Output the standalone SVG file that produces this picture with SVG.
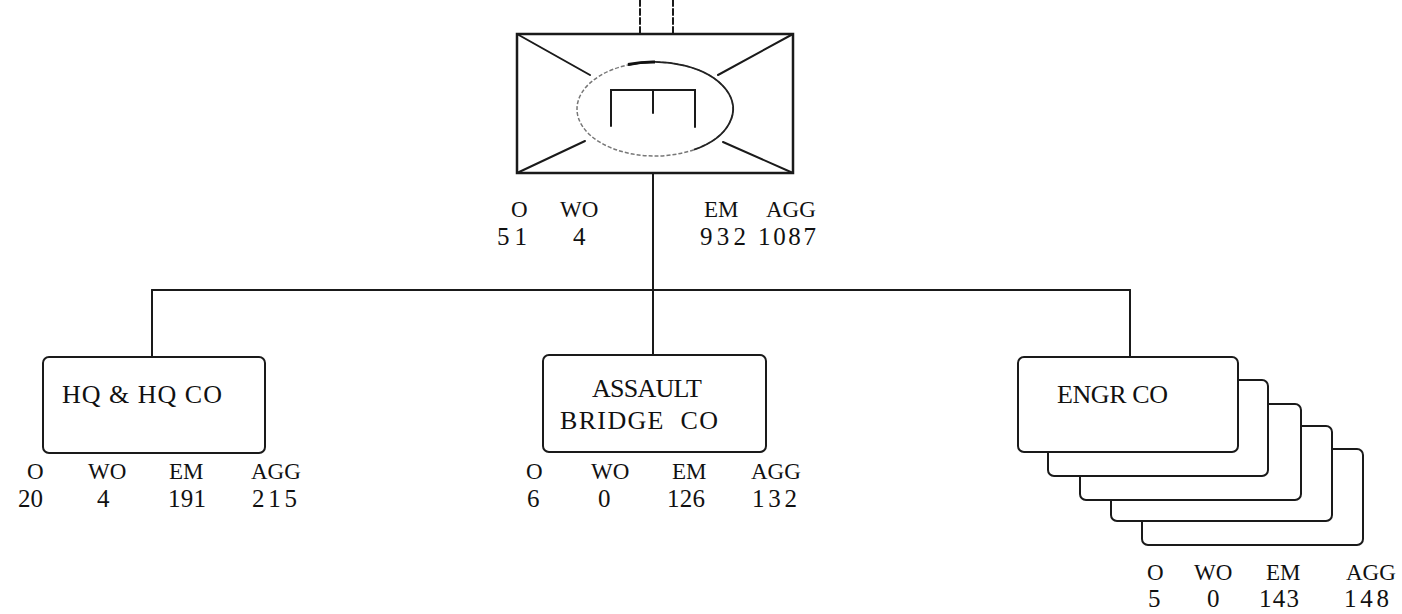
<svg xmlns="http://www.w3.org/2000/svg" width="1402" height="614" viewBox="0 0 1402 614">
<style>
.ln{stroke:#1a1a1a;stroke-width:2;fill:none;stroke-linecap:round}
.box{stroke:#1a1a1a;stroke-width:2;fill:#fff}
.t{font-family:"Liberation Serif","Times New Roman",serif;font-size:23px;fill:#111}
.n{font-family:"Liberation Serif","Times New Roman",serif;font-size:25px;fill:#111}
.b{font-family:"Liberation Serif","Times New Roman",serif;font-size:26px;fill:#111}
</style>
<rect width="1402" height="614" fill="#fff"/>
<g id="connectors">
<line class="ln" x1="640" y1="0" x2="640" y2="33" stroke-dasharray="6 3" stroke="#555" stroke-width="1.5"/>
<line class="ln" x1="673" y1="0" x2="673" y2="33" stroke-dasharray="6 3" stroke="#555" stroke-width="1.5"/>
<line class="ln" x1="653" y1="173" x2="653" y2="290"/>
<line class="ln" x1="152" y1="290" x2="1130" y2="290"/>
<line class="ln" x1="152" y1="290" x2="152" y2="357"/>
<line class="ln" x1="653" y1="290" x2="653" y2="355"/>
<line class="ln" x1="1130" y1="290" x2="1130" y2="357"/>
</g>
<g id="battalion">
<rect x="517" y="34" width="276" height="139" fill="#fff" stroke="#1a1a1a" stroke-width="2.5"/>
<line class="ln" x1="517" y1="34" x2="590" y2="75"/>
<line class="ln" x1="793" y1="34" x2="718" y2="75"/>
<line class="ln" x1="517" y1="173" x2="585" y2="141"/>
<line class="ln" x1="793" y1="173" x2="723" y2="142"/>
<ellipse cx="655" cy="109" rx="78" ry="47" fill="none" stroke="#777" stroke-width="1.5" stroke-dasharray="4 2"/>
<path d="M628,64.9 A78,47 0 0 1 694,149.7" fill="none" stroke="#222" stroke-width="1.8"/>
<path d="M628,64.5 A78,47 0 0 1 655,62" fill="none" stroke="#111" stroke-width="3.2"/>
<polyline class="ln" points="611,126 611,90 695,90 695,127"/>
<line class="ln" x1="653" y1="90" x2="653" y2="113"/>
<text class="t" x="511" y="217">O</text>
<text class="t" x="560" y="217">WO</text>
<text class="t" x="704" y="217">EM</text>
<text class="t" x="766" y="217">AGG</text>
<text class="n" x="497" y="245" textLength="30">51</text>
<text class="n" x="573" y="245">4</text>
<text class="n" x="700" y="245" textLength="46">932</text>
<text class="n" x="758" y="245" textLength="58">1087</text>
</g>
<g id="hq">
<rect class="box" x="43" y="357" width="222" height="96" rx="6"/>
<text class="b" x="62" y="403" textLength="160" lengthAdjust="spacing">HQ &amp; HQ CO</text>
<text class="t" x="27" y="479">O</text>
<text class="t" x="88" y="479">WO</text>
<text class="t" x="169" y="479">EM</text>
<text class="t" x="251" y="479">AGG</text>
<text class="n" x="18" y="507" textLength="25">20</text>
<text class="n" x="97" y="507">4</text>
<text class="n" x="168" y="507" textLength="38">191</text>
<text class="n" x="252" y="507" textLength="45">215</text>
</g>
<g id="bridge">
<rect class="box" x="543" y="355" width="223" height="97" rx="6"/>
<text class="b" x="592" y="397" textLength="110" lengthAdjust="spacing">ASSAULT</text>
<text class="b" x="560" y="429" textLength="158" lengthAdjust="spacing" xml:space="preserve">BRIDGE  CO</text>
<text class="t" x="526" y="479">O</text>
<text class="t" x="591" y="479">WO</text>
<text class="t" x="672" y="479">EM</text>
<text class="t" x="751" y="479">AGG</text>
<text class="n" x="527" y="507">6</text>
<text class="n" x="598" y="507">0</text>
<text class="n" x="667" y="507" textLength="38">126</text>
<text class="n" x="752" y="507" textLength="45">132</text>
</g>
<g id="engr">
<rect class="box" x="1142" y="449" width="221" height="96" rx="6"/>
<rect class="box" x="1111" y="426" width="221" height="95" rx="6"/>
<rect class="box" x="1080" y="404" width="221" height="96" rx="6"/>
<rect class="box" x="1048" y="380" width="220" height="96" rx="6"/>
<rect class="box" x="1018" y="357" width="220" height="95" rx="6"/>
<text class="b" x="1057" y="403" textLength="111" lengthAdjust="spacing">ENGR CO</text>
<text class="t" x="1147" y="580">O</text>
<text class="t" x="1194" y="580">WO</text>
<text class="t" x="1266" y="580">EM</text>
<text class="t" x="1346" y="580">AGG</text>
<text class="n" x="1148" y="607">5</text>
<text class="n" x="1207" y="607">0</text>
<text class="n" x="1259" y="607" textLength="40">143</text>
<text class="n" x="1344" y="607" textLength="45">148</text>
</g>
</svg>
